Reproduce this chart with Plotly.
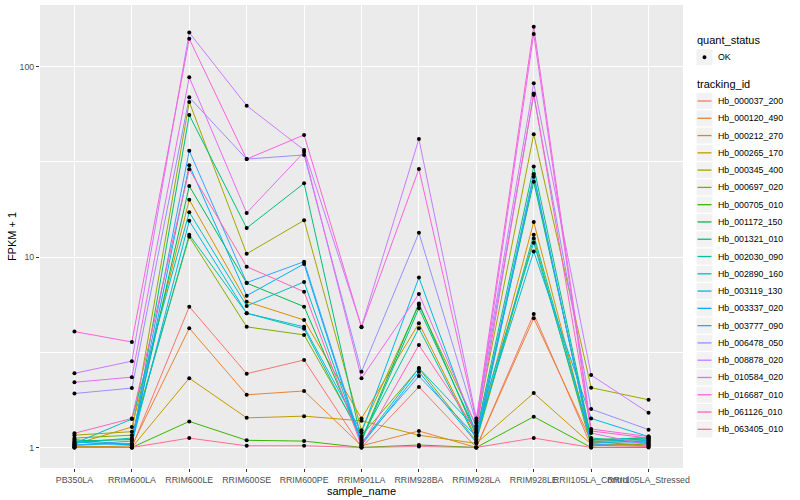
import plotly.graph_objects as go

sample_names = ["PB350LA", "RRIM600LA", "RRIM600LE", "RRIM600SE", "RRIM600PE",
                "RRIM901LA", "RRIM928BA", "RRIM928LA", "RRIM928LE",
                "RRII105LA_Control", "RRII105LA_Stressed"]

tracking_ids = ["Hb_000037_200", "Hb_000120_490", "Hb_000212_270", "Hb_000265_170",
                "Hb_000345_400", "Hb_000697_020", "Hb_000705_010", "Hb_001172_150",
                "Hb_001321_010", "Hb_002030_090", "Hb_002890_160", "Hb_003119_130",
                "Hb_003337_020", "Hb_003777_090", "Hb_006478_050", "Hb_008878_020",
                "Hb_010584_020", "Hb_016687_010", "Hb_061126_010", "Hb_063405_010"]

quant_status = ["OK"]

# FPKM + 1 per sample (same order as sample_names)
hb_000037_200 = [1.02, 1.00, 5.49, 2.44, 2.88, 1.00, 2.08, 1.00, 5.03, 1.02, 1.05]
hb_000120_490 = [1.00, 1.02, 4.23, 1.89, 1.98, 1.02, 1.22, 1.00, 4.77, 1.08, 1.10]
hb_000212_270 = [1.04, 1.28, 20.0, 5.83, 4.67, 1.42, 4.49, 1.12, 15.3, 1.06, 1.08]
hb_000265_170 = [1.01, 1.00, 2.31, 1.43, 1.46, 1.38, 1.16, 1.05, 1.93, 1.04, 1.02]
hb_000345_400 = [1.16, 1.21, 65.3, 10.4, 15.6, 1.23, 5.60, 1.30, 44.2, 2.06, 1.78]
hb_000697_020 = [1.12, 1.16, 12.8, 4.30, 3.90, 1.15, 2.60, 1.08, 12.5, 1.02, 1.04]
hb_000705_010 = [1.00, 1.00, 1.37, 1.09, 1.08, 1.00, 1.03, 1.00, 1.45, 1.00, 1.00]
hb_001172_150 = [1.08, 1.10, 23.6, 7.30, 5.49, 1.10, 5.71, 1.15, 24.9, 1.10, 1.12]
hb_001321_010 = [1.10, 1.03, 55.7, 14.2, 24.4, 1.08, 5.38, 1.20, 29.9, 1.12, 1.06]
hb_002030_090 = [1.06, 1.12, 13.1, 5.07, 4.20, 1.12, 4.23, 1.10, 13.1, 1.09, 1.13]
hb_002890_160 = [1.05, 1.41, 17.2, 5.54, 7.40, 1.05, 2.61, 1.25, 11.9, 1.07, 1.11]
hb_003119_130 = [1.03, 1.05, 15.5, 5.07, 4.30, 1.20, 7.80, 1.18, 10.7, 1.42, 1.14]
hb_003337_020 = [1.07, 1.03, 30.4, 6.27, 9.20, 1.03, 2.50, 1.06, 26.4, 1.05, 1.09]
hb_003777_090 = [1.03, 1.08, 36.2, 7.34, 9.46, 1.06, 2.37, 1.14, 27.3, 1.03, 1.07]
hb_006478_050 = [1.92, 2.05, 69.0, 32.7, 34.4, 2.50, 13.4, 1.35, 71.0, 1.59, 1.24]
hb_008878_020 = [2.45, 2.84, 151., 62.4, 36.5, 4.31, 41.7, 1.42, 81.8, 2.40, 1.52]
hb_010584_020 = [2.20, 2.34, 88.0, 17.05, 35.6, 2.31, 6.40, 1.28, 148.5, 1.19, 1.03]
hb_016687_010 = [4.06, 3.58, 140., 32.7, 43.8, 4.28, 29.0, 1.38, 162., 1.25, 1.14]
hb_061126_010 = [1.187, 1.42, 28.9, 8.90, 6.58, 1.02, 3.45, 1.22, 72.4, 1.22, 1.12]
hb_063405_010 = [1.00, 1.00, 1.12, 1.02, 1.02, 1.00, 1.01, 1.00, 1.12, 1.00, 1.01]

series_values = [hb_000037_200, hb_000120_490, hb_000212_270, hb_000265_170,
                 hb_000345_400, hb_000697_020, hb_000705_010, hb_001172_150,
                 hb_001321_010, hb_002030_090, hb_002890_160, hb_003119_130,
                 hb_003337_020, hb_003777_090, hb_006478_050, hb_008878_020,
                 hb_010584_020, hb_016687_010, hb_061126_010, hb_063405_010]

palette = ["#F8766D", "#EA8331", "#D89000", "#C09B00", "#A3A500", "#7CAE00",
           "#39B600", "#00BB4E", "#00BF7D", "#00C1A3", "#00BFC4", "#00BAE0",
           "#00B0F6", "#35A2FF", "#9590FF", "#C77CFF", "#E76BF3", "#FA62DB",
           "#FF62BC", "#FF6C91"]

FONT = "Liberation Sans, Arial, Helvetica, sans-serif"
W, H = 800, 500
ML, MR, MT, MB = 40, 116.5, 5, 32
PW, PH = W - ML - MR, H - MT - MB


def xp(px):
    return (px - ML) / PW


def yp(py):
    return (H - MB - py) / PH


fig = go.Figure()

for tid, vals, col in zip(tracking_ids, series_values, palette):
    fig.add_trace(go.Scatter(
        x=sample_names, y=vals, mode="lines", name=tid,
        line=dict(color=col, width=1), showlegend=False, zorder=1))

# points (quant_status = OK)
all_x, all_y = [], []
for vals in series_values:
    all_x += sample_names
    all_y += vals
fig.add_trace(go.Scatter(
    x=all_x, y=all_y, mode="markers", name=quant_status[0],
    marker=dict(color="black", size=4), showlegend=False, zorder=2))

# ---- ggplot-style legend (decoration built from the name/colour lists) ----
shapes, annos = [], []
key_x0, key_x1, text_x, title_x = 697, 713, 716.5, 696
step = 17.28

annos.append(dict(x=xp(title_x), y=yp(39.5), xref="paper", yref="paper",
                  text="quant_status", showarrow=False, xanchor="left", yanchor="middle",
                  font=dict(family=FONT, size=11, color="black")))
ok_c = 57.2
shapes.append(dict(type="rect", xref="paper", yref="paper",
                   x0=xp(key_x0), x1=xp(key_x1), y0=yp(ok_c - 8), y1=yp(ok_c + 8),
                   fillcolor="#F2F2F2", line=dict(width=0), layer="below"))
shapes.append(dict(type="circle", xref="paper", yref="paper",
                   x0=xp(703), x1=xp(707), y0=yp(ok_c - 2), y1=yp(ok_c + 2),
                   fillcolor="black", line=dict(width=0)))
annos.append(dict(x=xp(text_x), y=yp(ok_c), xref="paper", yref="paper",
                  text=quant_status[0], showarrow=False, xanchor="left", yanchor="middle",
                  font=dict(family=FONT, size=8.8, color="black")))

annos.append(dict(x=xp(title_x), y=yp(84), xref="paper", yref="paper",
                  text="tracking_id", showarrow=False, xanchor="left", yanchor="middle",
                  font=dict(family=FONT, size=11, color="black")))
for i, (tid, col) in enumerate(zip(tracking_ids, palette)):
    c = 101.0 + step * i
    shapes.append(dict(type="rect", xref="paper", yref="paper",
                       x0=xp(key_x0), x1=xp(key_x1), y0=yp(c - 8), y1=yp(c + 8),
                       fillcolor="#F2F2F2", line=dict(width=0), layer="below"))
    shapes.append(dict(type="line", xref="paper", yref="paper",
                       x0=xp(key_x0 + 1), x1=xp(key_x1 - 1), y0=yp(c), y1=yp(c),
                       line=dict(color=col, width=1.3)))
    annos.append(dict(x=xp(text_x), y=yp(c), xref="paper", yref="paper",
                      text=tid, showarrow=False, xanchor="left", yanchor="middle",
                      font=dict(family=FONT, size=8.8, color="black")))

fig.update_layout(
    width=W, height=H,
    margin=dict(l=ML, r=MR, t=MT, b=MB, autoexpand=False),
    paper_bgcolor="white", plot_bgcolor="#EBEBEB",
    font=dict(family=FONT, size=8.8, color="#4D4D4D"),
    showlegend=False, shapes=shapes, annotations=annos,
)
fig.update_xaxes(
    type="category", categoryorder="array", categoryarray=sample_names,
    range=[-0.6, 10.6], showgrid=True, gridcolor="white", gridwidth=1.1,
    ticks="outside", ticklen=3, tickcolor="#333333", tickangle=0,
    tickfont=dict(family=FONT, size=8.8, color="#4D4D4D"),
    title=dict(text="sample_name", font=dict(family=FONT, size=11, color="black"), standoff=0),
    automargin=False, zeroline=False, showline=False)
fig.update_yaxes(
    type="log", range=[-0.108, 2.324],
    tickvals=[1, 10, 100], ticktext=["1", "10", "100"],
    showgrid=True, gridcolor="white", gridwidth=1.1,
    minor=dict(tickvals=[10 ** 0.5, 10 ** 1.5], showgrid=True,
               gridcolor="white", gridwidth=0.5, ticks=""),
    ticks="outside", ticklen=3, tickcolor="#333333",
    tickfont=dict(family=FONT, size=8.8, color="#4D4D4D"),
    title=dict(text="FPKM + 1", font=dict(family=FONT, size=11, color="black"), standoff=0),
    automargin=False, zeroline=False, showline=False)

fig.write_html("out.html",
               config={"displayModeBar": False},
               post_script="document.body.style.margin='0';document.body.style.overflow='hidden';")
